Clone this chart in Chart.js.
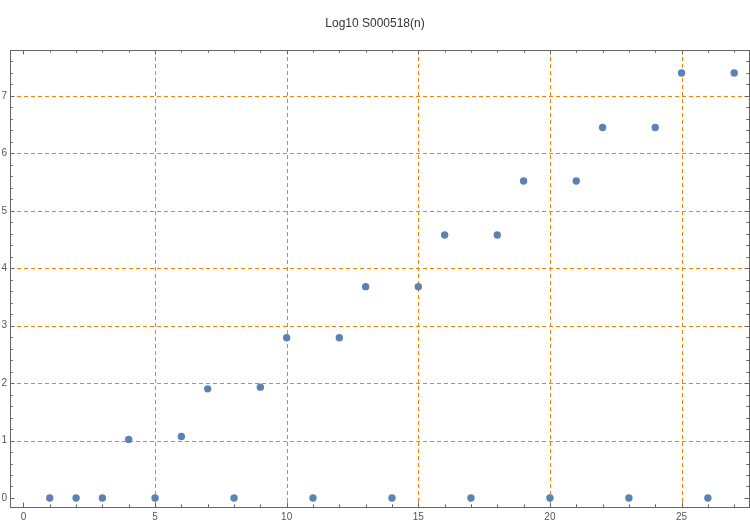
<!DOCTYPE html>
<html><head><meta charset="utf-8">
<script src="https://cdn.jsdelivr.net/npm/chart.js@4.4.1/dist/chart.umd.min.js"></script>
<style>html,body{margin:0;padding:0;background:#fff;overflow:hidden}canvas{display:block}</style>
</head><body><canvas id="c" width="750" height="525" style="width:750px;height:525px"></canvas>
<script>
const nValues = [1,2,3,4,5,6,7,8,9,10,11,12,13,14,15,16,17,18,19,20,21,22,23,24,25,26,27];
const logValues = [0,0,0,1.02,0,1.07,1.90,0,1.93,2.79,0,2.79,3.68,0,3.68,4.58,0,4.58,5.52,0,5.52,6.45,0,6.45,7.40,0,7.40];
const xTicks = [0,5,10,15,20,25];
const yTicks = [0,1,2,3,4,5,6,7];
const xGrid = [5,10,15,20,25];
const yGrid = [1,2,3,4,5,6,7];
const xMinor = [1,2,3,4,6,7,8,9,11,12,13,14,16,17,18,19,21,22,23,24,26,27];
const yMinor = [];
for (let i = 0; i <= 38; i++) { const v = +(i*0.2).toFixed(1); if (Math.abs(v - Math.round(v)) > 1e-6) yMinor.push(v); }

const framePlugin = {
  id: 'frame',
  beforeDatasetsDraw(chart) {
    const {ctx, chartArea: a, scales: {x, y}} = chart;
    ctx.save();
    ctx.strokeStyle = 'rgb(255,128,0)';
    ctx.lineWidth = 1;
    ctx.setLineDash([4,3]);
    xGrid.forEach(v => { const px = Math.round(x.getPixelForValue(v)) + 0.5; ctx.beginPath(); ctx.moveTo(px, a.top); ctx.lineTo(px, a.bottom); ctx.stroke(); });
    yGrid.forEach(v => { const py = Math.round(y.getPixelForValue(v)) + 0.5; ctx.beginPath(); ctx.moveTo(a.left, py); ctx.lineTo(a.right, py); ctx.stroke(); });
    ctx.setLineDash([]);
    ctx.strokeStyle = '#666';
    ctx.strokeRect(Math.round(a.left)+0.5, Math.round(a.top)+0.5, Math.round(a.right-a.left)-1, Math.round(a.bottom-a.top));
    const tick = (vals, len) => {
      vals.forEach(v => {
        const px = Math.round(x.getPixelForValue(v)) + 0.5;
        if (px < a.left || px > a.right) return;
        ctx.beginPath(); ctx.moveTo(px, a.bottom); ctx.lineTo(px, a.bottom - len);
        ctx.moveTo(px, a.top); ctx.lineTo(px, a.top + len); ctx.stroke();
      });
    };
    const ytick = (vals, len) => {
      vals.forEach(v => {
        const py = Math.round(y.getPixelForValue(v)) + 0.5;
        if (py < a.top || py > a.bottom) return;
        ctx.beginPath(); ctx.moveTo(a.left, py); ctx.lineTo(a.left + len, py);
        ctx.moveTo(a.right - 1, py); ctx.lineTo(a.right - 1 - len, py); ctx.stroke();
      });
    };
    tick(xTicks, 4.5); tick(xMinor, 2.7);
    ytick(yTicks, 4.5); ytick(yMinor, 2.7);
    ctx.restore();
  }
};

new Chart(document.getElementById('c'), {
  type: 'scatter',
  data: { datasets: [{ data: nValues.map((n, i) => ({x: n, y: logValues[i]})),
    backgroundColor: 'rgb(94,129,181)', borderColor: 'rgb(94,129,181)', pointRadius: 3.7, pointHoverRadius: 3.7, borderWidth: 0 }] },
  options: {
    responsive: false, maintainAspectRatio: false, animation: false, devicePixelRatio: 1,
    layout: { autoPadding: false, padding: { left: 0, right: 0, top: 0, bottom: 0 } },
    plugins: {
      legend: { display: false }, tooltip: { enabled: false },
      title: { display: true, text: 'Log10 S000518(n)', color: '#333',
        font: { family: 'Liberation Sans, Arial, sans-serif', size: 12, weight: 'normal', lineHeight: 1.2 },
        padding: { top: 16, bottom: 19.6 } }
    },
    scales: {
      x: { type: 'linear', min: -0.51, max: 27.6,
        afterBuildTicks: s => { s.ticks = xTicks.map(v => ({value: v})); },
        afterFit: s => { s.height = 18; s.paddingRight = 0; s.paddingLeft = 0; },
        grid: { display: false, drawTicks: false }, border: { display: false },
        ticks: { padding: 4, color: '#555', font: { family: 'Liberation Sans, Arial, sans-serif', size: 10 }, maxRotation: 0 } },
      y: { type: 'linear', min: -0.157, max: 7.8,
        afterBuildTicks: s => { s.ticks = yTicks.map(v => ({value: v})); },
        afterFit: s => { s.width = 10; s.paddingTop = 0; s.paddingBottom = 0; },
        grid: { display: false, drawTicks: false }, border: { display: false },
        ticks: { padding: 3, color: '#555', font: { family: 'Liberation Sans, Arial, sans-serif', size: 10 } } }
    }
  },
  plugins: [framePlugin]
});
</script></body></html>
